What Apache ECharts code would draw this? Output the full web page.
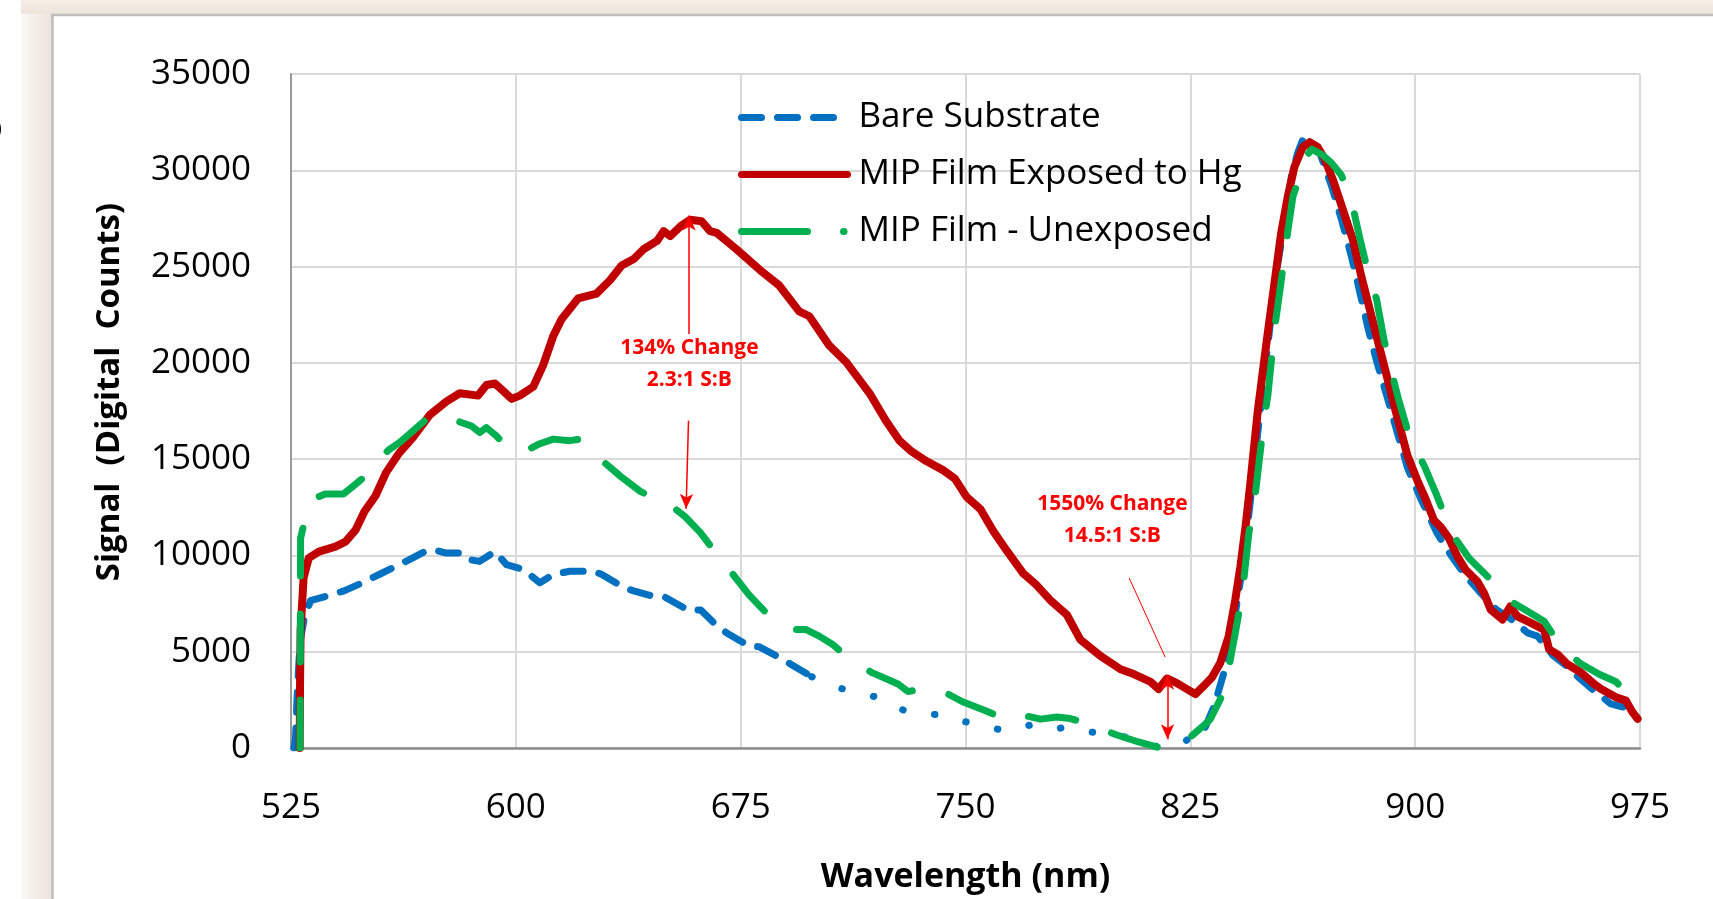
<!DOCTYPE html>
<html>
<head>
<meta charset="utf-8">
<title>Signal vs Wavelength</title>
<script src="https://cdn.jsdelivr.net/npm/echarts/dist/echarts.min.js"></script>
<style>
    html, body {margin: 0; padding: 0; background: #ffffff;}
    #main {width: 1713px; height: 899px;}
</style>
</head>
<body>
<div id="main"></div>
<script>
// 光谱数据 [波长 nm, 信号]
var bareSubstrate = [
    [526.0, 0], [526.5, 500], [527.0, 2500], [528.0, 5500], [529.3, 6620], [531.5, 7650],
    [537.1, 7900], [542.7, 8160], [548.8, 8580], [554.4, 9010], [560.0, 9440], [564.5, 9780],
    [570.1, 10240], [572.8, 10290], [576.8, 10120], [581.8, 10120], [584.6, 9780], [587.9, 9690],
    [593.0, 10200], [596.9, 9520], [602.5, 9270], [608.0, 8580], [612.5, 9010], [618.1, 9180],
    [625.9, 9180], [628.7, 9010], [636.0, 8330], [639.3, 8160], [647.2, 7820], [649.9, 7820],
    [657.8, 7130], [661.7, 7170], [667.2, 6320], [670.6, 5950], [677.8, 5290], [681.1, 5260],
    [689.0, 4610], [691.7, 4350], [698.7, 3700], [704.0, 3300], [709.9, 3030], [716.0, 2800],
    [721.7, 2590], [727.0, 2100], [732.6, 1780], [738.0, 1750], [744.5, 1700], [749.0, 1400],
    [754.8, 1180], [760.0, 1000], [764.5, 870], [769.0, 1100], [773.8, 1270], [777.0, 1100],
    [781.0, 1010], [783.8, 1100], [791.0, 850], [799.4, 670], [801.7, 640], [808.0, 350],
    [813.0, 100], [816.1, 50], [818.9, 100], [823.0, 300], [826.0, 700], [830.0, 1080],
    [833.0, 2200], [836.7, 4180], [839.5, 6500], [842.8, 9760], [845.5, 13500], [848.5, 17800],
    [851.5, 21800], [854.0, 25000], [855.9, 26750], [858.7, 29660], [860.8, 30900], [862.6, 31630],
    [865.0, 31600], [868.0, 31000], [872.0, 29230], [875.5, 27400], [878.7, 25550], [881.5, 23700],
    [884.3, 21780], [887.3, 20000], [890.4, 18360], [894.0, 16400], [897.4, 14570], [902.0, 12900],
    [907.4, 11130], [912.0, 10000], [916.5, 9000], [921.9, 8040], [927.0, 7200], [932.0, 6700],
    [937.5, 5980], [940.8, 5810], [946.0, 4800], [951.0, 4200], [955.0, 3600], [959.7, 2970],
    [965.3, 2290], [970.0, 2100], [974.0, 1600]
];

var exposedHg = [
    [527.9, 0], [528.0, 3000], [528.2, 6100], [529.2, 8840], [530.9, 9860], [534.3, 10200],
    [539.8, 10460], [543.2, 10720], [546.5, 11310], [549.5, 12280], [553.2, 13100], [556.7, 14300],
    [561.0, 15300], [565.7, 16130], [571.3, 17300], [576.9, 18000], [581.3, 18420], [587.4, 18300],
    [590.2, 18850], [593.0, 18930], [595.8, 18540], [598.6, 18130], [601.3, 18300], [605.8, 18760],
    [609.1, 19870], [612.5, 21400], [615.2, 22250], [620.8, 23350], [626.9, 23600], [631.4, 24290],
    [635.3, 25050], [639.3, 25390], [642.6, 25900], [647.1, 26330], [649.3, 26840], [651.5, 26580],
    [655.0, 27100], [658.1, 27430], [662.0, 27350], [664.8, 26840], [667.0, 26750], [673.6, 25900],
    [682.3, 24710], [687.8, 24030], [694.5, 22670], [697.9, 22420], [704.6, 20890], [710.2, 20040],
    [718.0, 18420], [723.5, 16980], [728.0, 15960], [732.0, 15400], [736.9, 14900], [742.5, 14430],
    [746.4, 14000], [750.3, 13050], [755.0, 12400], [759.2, 11280], [763.7, 10260], [769.3, 9060],
    [773.7, 8460], [778.2, 7690], [783.8, 6920], [788.3, 5630], [795.0, 4780], [801.7, 4090],
    [806.1, 3840], [811.6, 3450], [814.4, 3060], [817.2, 3610], [820.5, 3370], [826.7, 2800],
    [829.5, 3230], [832.2, 3660], [835.0, 4430], [837.8, 5810], [840.0, 7700], [841.7, 9420],
    [843.4, 11480], [845.0, 13710], [847.5, 17500], [850.3, 20930], [853.1, 24180], [855.3, 26750],
    [857.5, 28630], [859.7, 30170], [862.5, 31200], [864.8, 31460], [867.5, 31200], [869.8, 30600],
    [872.6, 29490], [875.9, 27950], [879.2, 26400], [882.0, 24520], [884.8, 22810], [887.6, 21100],
    [890.4, 19390], [893.2, 17670], [897.4, 15200], [900.7, 13900], [903.0, 13110], [906.3, 11820],
    [908.5, 11480], [911.3, 10880], [914.1, 9940], [916.9, 9240], [920.8, 8640], [923.0, 8040],
    [925.2, 7180], [929.1, 6670], [931.7, 7350], [934.1, 6840], [938.6, 6500], [943.0, 6150],
    [944.7, 5120], [947.5, 4860], [950.8, 4350], [955.3, 3920], [959.7, 3320], [962.0, 3060],
    [967.0, 2630], [970.3, 2460], [972.5, 1860], [974.2, 1510]
];

var unexposed = [
    [528.0, 0], [528.1, 5000], [528.2, 10900], [530.9, 12680], [533.5, 13000], [536.4, 13190],
    [542.5, 13190], [545.9, 13620], [549.2, 14040], [553.0, 14800], [557.4, 15450], [561.5, 15900],
    [565.7, 16470], [571.3, 17230], [575.2, 17150], [580.0, 17000], [585.2, 16720], [588.0, 16380],
    [590.2, 16640], [593.5, 16210], [596.9, 15620], [600.2, 15410], [603.6, 15450], [608.0, 15800],
    [612.5, 16040], [618.0, 15960], [621.4, 16040], [624.7, 15450], [629.7, 14800], [635.0, 14100],
    [641.4, 13340], [645.8, 12980], [649.2, 12900], [656.4, 12020], [661.5, 11200], [666.5, 10170],
    [672.2, 9060], [677.8, 7950], [683.0, 7100], [689.0, 6350], [693.4, 6150], [696.8, 6150],
    [701.2, 5810], [705.7, 5380], [711.3, 4610], [719.0, 3900], [727.5, 3320], [730.8, 2930],
    [736.9, 3100], [741.4, 3030], [749.0, 2400], [756.5, 1950], [761.5, 1610], [766.0, 1870],
    [770.4, 1660], [775.0, 1500], [780.5, 1610], [784.9, 1530], [792.7, 1180], [800.0, 700],
    [808.0, 300], [815.0, 0], [822.0, 200], [826.0, 700], [829.5, 1170], [831.7, 1510],
    [835.6, 2720], [838.0, 4300], [840.0, 5980], [842.3, 7960], [844.5, 11130], [846.7, 13200],
    [849.2, 16560], [850.9, 18360], [853.1, 21780], [854.8, 23670], [857.6, 26920], [859.2, 28630],
    [860.3, 29140], [863.1, 30600], [865.5, 31100], [869.0, 30800], [872.0, 30400], [875.4, 29740],
    [878.7, 28460], [881.5, 26500], [884.3, 24690], [887.1, 23320], [889.6, 21200], [892.1, 19560],
    [894.3, 18190], [898.0, 16200], [903.2, 14590], [906.8, 13280], [912.0, 11200], [918.0, 9850],
    [924.7, 8820], [931.0, 7700], [937.5, 7100], [943.0, 6580], [949.0, 5200], [955.0, 4400],
    [961.4, 3830], [967.0, 3440], [971.0, 2800], [974.5, 2000]
];

var seriesNames = ["Bare Substrate", "MIP Film Exposed to Hg", "MIP Film - Unexposed"];

// Bare Substrate 在这一段显示成点
var bareDotFrom = 698.7;
var bareDotTo = 830.0;

// 标注箭头 (起点, 终点)
var peakArrowUp = [[657.8, 21500], [657.8, 27650]];
var peakArrowDown = [[657.6, 17000], [656.8, 12420]];
var dipPointer = [[804.6, 8830], [816.6, 4720]];
var dipArrow = [[817.4, 3800], [817.4, 460]];
var noteTexts = ["134% Change\n2.3:1 S:B", "1550% Change\n14.5:1 S:B"];
var notePos = [[657.9, 19930], [799.0, 11820]];

var textFont = "Open Sans";
var noteRed = "#FF0000";
var blue = "#0070c0";

function arrowLine(pair, startSym, endSym, width) {
    return [
        {coord: pair[0], symbol: startSym, symbolSize: [10, 15], lineStyle: {width: width}},
        {coord: pair[1], symbol: endSym, symbolSize: [10, 15]}
    ];
}

function between(data, a, b) {
    return data.filter(function (p) {
        return p[0] >= a && p[0] <= b;
    });
}

function bareSeries(data, dash) {
    return {
        name: seriesNames[0],
        type: "line",
        data: data,
        symbol: "none",
        z: 2,
        lineStyle: {color: blue, width: 7, type: dash, cap: "round", join: "round"},
        itemStyle: {color: blue},
        emphasis: {disabled: true}
    };
}

function drawChart() {
    var chart = echarts.init(document.getElementById("main"));

    var option = {
        animation: false,
        backgroundColor: "#ffffff",
        grid: {
            left: 291,
            right: 73,
            top: 74,
            bottom: 142,
            containLabel: false
        },
        legend: {
            data: [
                {name: seriesNames[0]},
                {name: seriesNames[1]},
                {name: seriesNames[2], lineStyle: {type: [66, 36, 0.5, 36]}}
            ],
            orient: "vertical",
            left: 738,
            top: 100,
            padding: 0,
            itemWidth: 106,
            itemHeight: 14,
            itemGap: 22,
            selectedMode: false,
            itemStyle: {color: "rgba(0,0,0,0)", borderWidth: 0, opacity: 0},
            textStyle: {
                fontFamily: textFont,
                fontSize: 35,
                color: "#000000",
                padding: [0, 0, 0, 6]
            },
            lineStyle: {width: 7}
        },
        xAxis: {
            type: "value",
            min: 525,
            max: 975,
            interval: 75,
            axisLine: {show: true, lineStyle: {color: "#8c8c8c", width: 2.5}},
            axisTick: {show: false},
            axisLabel: {
                margin: 43,
                fontFamily: textFont,
                fontSize: 35,
                color: "#000000"
            },
            splitLine: {show: true, lineStyle: {color: "#d9d9d9", width: 2}},
            name: "Wavelength (nm)",
            nameLocation: "middle",
            nameGap: 112,
            nameTextStyle: {
                fontFamily: textFont,
                fontSize: 34,
                fontWeight: "bold",
                color: "#000000"
            }
        },
        yAxis: {
            type: "value",
            min: 0,
            max: 35000,
            interval: 5000,
            axisLine: {show: true, lineStyle: {color: "#9a9a9a", width: 2}},
            axisTick: {show: false},
            axisLabel: {
                margin: 40,
                fontFamily: textFont,
                fontSize: 35,
                color: "#000000",
                padding: [9, 0, 0, 0],
                formatter: function (v) {
                    return String(v);
                }
            },
            splitLine: {show: true, lineStyle: {color: "#d9d9d9", width: 2}}
        },
        graphic: [
            // 左侧阴影边
            {
                type: "rect",
                shape: {x: 21, y: 0, width: 31, height: 899},
                style: {
                    fill: new echarts.graphic.LinearGradient(0, 0, 1, 0, [
                        {offset: 0, color: "#fbf8f5"},
                        {offset: 1, color: "#ece3db"}
                    ])
                },
                silent: true
            },
            // 顶部阴影边
            {
                type: "rect",
                shape: {x: 21, y: 0, width: 1692, height: 14},
                style: {
                    fill: new echarts.graphic.LinearGradient(0, 0, 0, 1, [
                        {offset: 0, color: "#f5eee6"},
                        {offset: 1, color: "#ede4db"}
                    ])
                },
                silent: true
            },
            {
                type: "polyline",
                shape: {points: [[52.5, 899], [52.5, 15], [1713, 15]]},
                style: {stroke: "#bdbdbd", lineWidth: 2.5, fill: null},
                silent: true
            },
            // 左边被截断的字
            {
                type: "text",
                x: -9,
                y: 128,
                rotation: Math.PI / 2,
                style: {
                    text: "s",
                    fontFamily: textFont,
                    fontSize: 34,
                    fontWeight: "bold",
                    fill: "#000000",
                    align: "center",
                    verticalAlign: "middle"
                },
                silent: true
            },
            // Y轴标题
            {
                type: "text",
                x: 110,
                y: 392,
                rotation: Math.PI / 2,
                style: {
                    text: "Signal  (Digital  Counts)",
                    fontFamily: textFont,
                    fontSize: 33,
                    fontWeight: "bold",
                    fill: "#000000",
                    align: "center",
                    verticalAlign: "middle"
                },
                silent: true
            }
        ],
        series: [
            bareSeries(between(bareSubstrate, 0, bareDotFrom), [20, 16]),
            bareSeries(between(bareSubstrate, bareDotFrom, bareDotTo), [0.5, 32]),
            bareSeries(between(bareSubstrate, bareDotTo, 9999), [20, 16]),
            {
                name: seriesNames[1],
                type: "line",
                data: exposedHg,
                symbol: "none",
                z: 3,
                lineStyle: {color: "#c00000", width: 8, type: "solid", cap: "round", join: "round"},
                itemStyle: {color: "#c00000"},
                emphasis: {disabled: true}
            },
            {
                name: seriesNames[2],
                type: "line",
                data: unexposed,
                symbol: "none",
                z: 4,
                lineStyle: {color: "#00b050", width: 7, type: [48, 38], cap: "round", join: "round"},
                itemStyle: {color: "#00b050"},
                emphasis: {disabled: true}
            },
            // 标注
            {
                name: "notes",
                type: "line",
                data: [],
                z: 6,
                silent: true,
                markLine: {
                    silent: true,
                    animation: false,
                    label: {show: false},
                    lineStyle: {color: noteRed, width: 1.5, type: "solid"},
                    emphasis: {disabled: true},
                    data: [
                        arrowLine(peakArrowUp, "none", "arrow", 1.5),
                        arrowLine(peakArrowDown, "none", "arrow", 1.5),
                        arrowLine(dipPointer, "none", "none", 1),
                        arrowLine(dipArrow, "arrow", "arrow", 1.5)
                    ]
                },
                markPoint: {
                    silent: true,
                    animation: false,
                    data: notePos.map(function (p, i) {
                        return {
                            coord: p,
                            symbol: "circle",
                            symbolSize: 1,
                            itemStyle: {color: "rgba(0,0,0,0)"},
                            label: {
                                show: true,
                                position: "inside",
                                formatter: noteTexts[i],
                                fontFamily: textFont,
                                fontSize: 21,
                                fontWeight: "bold",
                                lineHeight: 32,
                                color: noteRed,
                                align: "center"
                            }
                        };
                    })
                }
            }
        ]
    };
    chart.setOption(option);
}

drawChart();
</script>
</body>
</html>
